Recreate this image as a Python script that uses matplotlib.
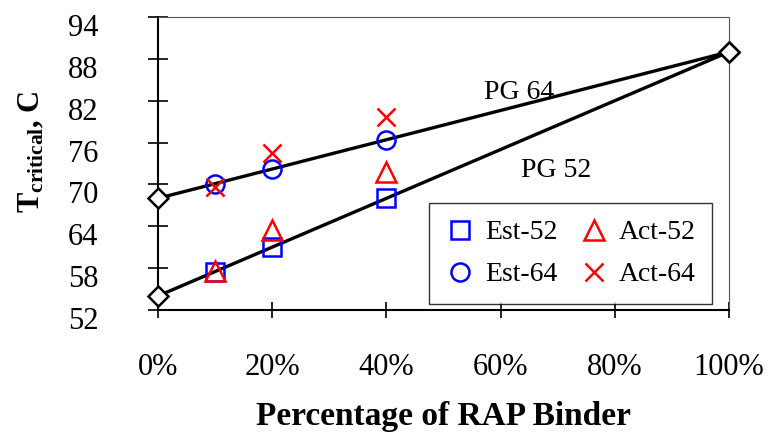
import matplotlib.pyplot as plt
from matplotlib.ticker import FuncFormatter
from matplotlib.transforms import ScaledTranslation

plt.rcParams['font.family'] = ['Liberation Serif', 'DejaVu Serif']
plt.rcParams['mathtext.fontset'] = 'custom'
plt.rcParams['mathtext.rm'] = 'Liberation Serif'
plt.rcParams['mathtext.bf'] = 'Liberation Serif:bold'

# RAP binder fraction (%) and critical temperatures (C)
rap_line = [0, 100]
pg52_line = [54, 89]
pg64_line = [68, 89]

rap_pts = [10, 20, 40]
est_52 = [57.5, 61.0, 68.0]
act_52 = [57.6, 63.5, 71.8]
est_64 = [70.1, 72.2, 76.4]
act_64 = [69.6, 74.5, 79.6]

y_ticks = [52, 58, 64, 70, 76, 82, 88, 94]
x_ticks = [0, 20, 40, 60, 80, 100]

fig = plt.figure(figsize=(7.7, 4.4), dpi=100)
ax = fig.add_axes([0.205, 0.2955, 0.742, 0.666])

# blend lines with the end points marked as diamonds
ax.plot(rap_line, pg52_line, 'k-', lw=2.4, marker='D', ms=10, mfc='white', mew=1.8, clip_on=False, zorder=3)
ax.plot(rap_line, pg64_line, 'k-', lw=2.4, marker='D', ms=10, mfc='white', mew=1.8, clip_on=False, zorder=3)

ax.plot(rap_pts, est_52, ls='none', marker='s', ms=13, mfc='none', mec='blue', mew=1.8, label='Est-52', zorder=4)
ax.plot(rap_pts, est_64, ls='none', marker='o', ms=13, mfc='none', mec='blue', mew=1.8, label='Est-64', zorder=4)
ax.plot(rap_pts, act_52, ls='none', marker='^', ms=14, mfc='none', mec='red', mew=1.8, label='Act-52', zorder=5)
ax.plot(rap_pts, act_64, ls='none', marker='x', ms=13, mec='red', mew=1.8, label='Act-64', zorder=5)

ax.text(57, 82.25, 'PG 64', fontsize=20)
ax.text(63.6, 71.1, 'PG 52', fontsize=20)

ax.set_xlim(0, 100)
ax.set_ylim(52, 94)
ax.set_xticks(x_ticks)
ax.set_yticks(y_ticks)
ax.xaxis.set_major_formatter(FuncFormatter(lambda v, p: '%d%%' % v))
ax.tick_params(axis='x', direction='inout', length=12, width=1.2, pad=25, labelsize=22)
ax.tick_params(axis='y', direction='inout', length=14, width=1.2, pad=36, labelsize=22)

# y labels sit a little below their ticks
for lab in ax.get_yticklabels():
    lab.set_transform(lab.get_transform() + ScaledTranslation(0, -0.08, fig.dpi_scale_trans))

for s in ['left', 'bottom']:
    ax.spines[s].set_linewidth(1.5)
for s in ['top', 'right']:
    ax.spines[s].set_linewidth(0.8)
    ax.spines[s].set_color('#555555')

ax.set_xlabel('Percentage of RAP Binder', fontsize=24, fontweight='bold', labelpad=14)
ax.set_ylabel(r'$\mathbf{T_{critical}}$, C', fontsize=22, fontweight='bold')
ax.yaxis.set_label_coords(-0.195, 0.54)

ax.legend(loc='lower right', ncol=2, fontsize=20, frameon=True, fancybox=False,
          edgecolor='black', handlelength=1.0, handletextpad=0.4, columnspacing=0.8,
          borderpad=0.6, labelspacing=0.6, borderaxespad=0,
          bbox_to_anchor=(0.970, 0.02))
ax.get_legend().get_frame().set_linewidth(1.0)

fig.savefig('out.png', dpi=100)
